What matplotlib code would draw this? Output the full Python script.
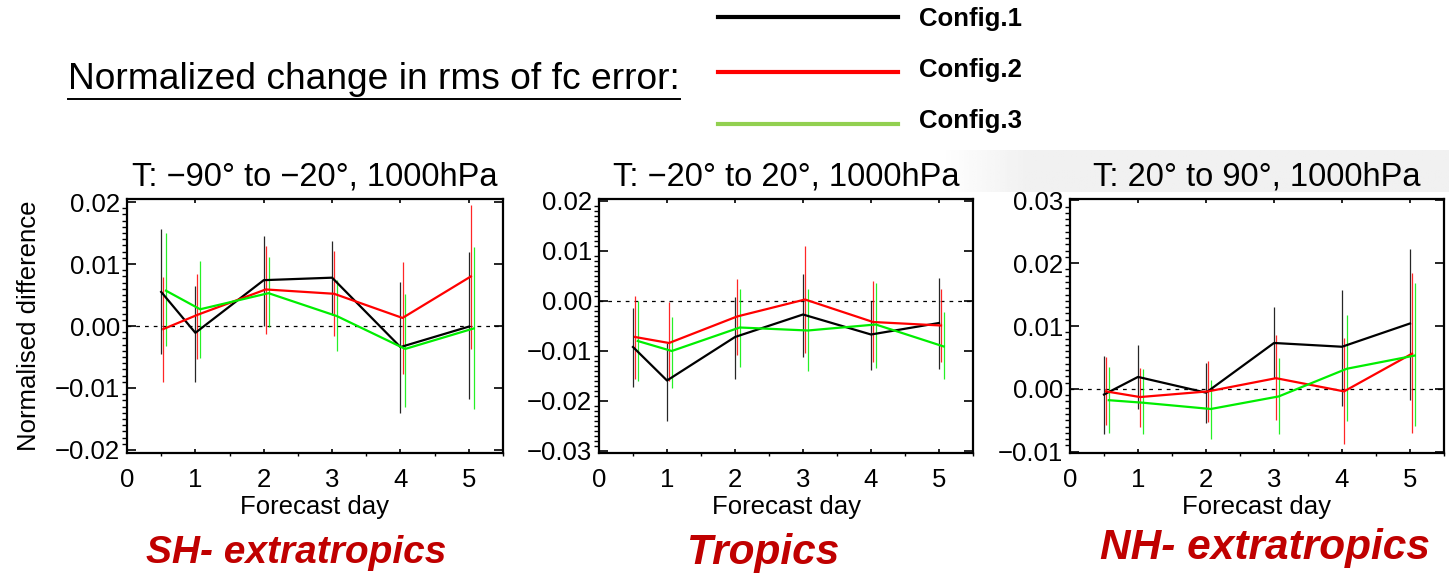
import numpy as np
import matplotlib.pyplot as plt
from matplotlib.lines import Line2D
from matplotlib.ticker import MultipleLocator, FuncFormatter

plt.rcParams['font.family'] = ['Liberation Sans', 'DejaVu Sans']

# ---- data ----
days = [0.5, 1, 2, 3, 4, 5]
configs = ['Config.1', 'Config.2', 'Config.3']
titles = ['T: \u221290\u00b0 to \u221220\u00b0, 1000hPa',
          'T: \u221220\u00b0 to 20\u00b0, 1000hPa',
          'T: 20\u00b0 to 90\u00b0, 1000hPa']
regions = ['SH- extratropics', 'Tropics', 'NH- extratropics']

# SH extratropics
sh_mean = [[0.0055, -0.0011, 0.0074, 0.0078, -0.0034, -0.0001],
           [-0.0005, 0.0018, 0.0059, 0.0052, 0.0013, 0.0080],
           [0.0057, 0.0027, 0.0053, 0.0016, -0.0037, -0.0004]]
sh_low = [[-0.0046, -0.0090, 0.0000, 0.0018, -0.0141, -0.0118],
          [-0.0090, -0.0054, -0.0013, -0.0016, -0.0078, -0.0037],
          [-0.0033, -0.0052, -0.0001, -0.0041, -0.0131, -0.0134]]
sh_high = [[0.0156, 0.0064, 0.0146, 0.0137, 0.0071, 0.0119],
           [0.0079, 0.0084, 0.0129, 0.0121, 0.0103, 0.0196],
           [0.0150, 0.0105, 0.0112, 0.0074, 0.0051, 0.0128]]

# Tropics
tr_mean = [[-0.0092, -0.0159, -0.0072, -0.0027, -0.0067, -0.0044],
           [-0.0072, -0.0084, -0.0031, 0.0003, -0.0042, -0.0049],
           [-0.0080, -0.0100, -0.0053, -0.0059, -0.0047, -0.0091]]
tr_low = [[-0.0171, -0.0240, -0.0155, -0.0112, -0.0137, -0.0135],
          [-0.0155, -0.0159, -0.0107, -0.0104, -0.0122, -0.0122],
          [-0.0159, -0.0173, -0.0132, -0.0140, -0.0133, -0.0155]]
tr_high = [[-0.0013, -0.0084, 0.0008, 0.0055, 0.0000, 0.0047],
           [0.0011, -0.0002, 0.0045, 0.0111, 0.0040, 0.0025],
           [0.0000, -0.0032, 0.0025, 0.0025, 0.0036, -0.0022]]

# NH extratropics
nh_mean = [[-0.0009, 0.0019, -0.0006, 0.0073, 0.0067, 0.0104],
           [-0.0004, -0.0013, -0.0004, 0.0017, -0.0004, 0.0056],
           [-0.0018, -0.0022, -0.0032, -0.0012, 0.0032, 0.0053]]
nh_low = [[-0.0072, -0.0032, -0.0054, 0.0017, -0.0028, -0.0018],
          [-0.0058, -0.0060, -0.0053, -0.0050, -0.0088, -0.0070],
          [-0.0070, -0.0072, -0.0079, -0.0072, -0.0051, -0.0059]]
nh_high = [[0.0052, 0.0070, 0.0041, 0.0130, 0.0158, 0.0222],
           [0.0051, 0.0033, 0.0044, 0.0086, 0.0081, 0.0184],
           [0.0035, 0.0031, 0.0014, 0.0049, 0.0118, 0.0168]]

panels = [(sh_mean, sh_low, sh_high), (tr_mean, tr_low, tr_high), (nh_mean, nh_low, nh_high)]
ylims = [(-0.0205, 0.0205), (-0.0304, 0.0204), (-0.0102, 0.0302)]

colors = ['black', '#ff0000', '#00ee00']
legend_colors = ['black', '#ff0000', '#92d050']
x_shift = [0.0, 0.03, 0.07]


def fmt(v, pos):
    return ('%.2f' % v).replace('-', '\u2212')


W, H = 1449, 577
fig = plt.figure(figsize=(W / 100, H / 100), dpi=100)

# faint grey box behind the right-hand title
bg = fig.add_axes([940 / W, 1 - 192 / H, (W - 940) / W, 42 / H], zorder=-5)
grad = np.clip(np.linspace(0, 1, 200) * 6, 0, 1)[None, :]
bg.imshow(1 - 0.055 * grad, cmap='gray', vmin=0, vmax=1, aspect='auto', extent=[0, 1, 0, 1])
bg.axis('off')

lefts = [127, 599, 1070]
widths = [376, 374, 374]
label_x = [296, 763, 1265]
label_y = [553, 553, 548]
label_size = [28, 30.5, 30.5]
for i, (mean, low, high) in enumerate(panels):
    ax = fig.add_axes([lefts[i] / W, 1 - 453 / H, widths[i] / W, 254 / H])
    ax.axhline(0, color='black', lw=0.9, ls=(0, (3, 4)), zorder=1)
    for k in range(3):
        xs = np.array(days) + x_shift[k]
        ax.plot(xs, mean[k], color=colors[k], lw=1.6, zorder=3)
        ax.vlines(xs, low[k], high[k], color=colors[k], lw=0.9, alpha=0.85, zorder=2)
    ax.set_xlim(0, 5.5)
    ax.set_ylim(*ylims[i])
    ax.xaxis.set_major_locator(MultipleLocator(1))
    ax.xaxis.set_minor_locator(MultipleLocator(0.5))
    ax.yaxis.set_major_locator(MultipleLocator(0.01))
    ax.yaxis.set_minor_locator(MultipleLocator(0.001))
    ax.yaxis.set_major_formatter(FuncFormatter(fmt))
    ax.tick_params(direction='in', top=True, right=True, labelsize=18.5, width=1.2)
    ax.tick_params(axis='y', which='major', length=6.5, pad=5)
    ax.tick_params(axis='y', which='minor', length=3.5, width=1.0)
    ax.tick_params(axis='x', which='major', length=3, pad=11)
    ax.tick_params(axis='x', which='minor', length=2, width=1.0)
    for s in ax.spines.values():
        s.set_linewidth(1.6)
    ax.set_title(titles[i], fontsize=23.5, pad=10)
    ax.set_xlabel('Forecast day', fontsize=18.5, labelpad=2)
    if i == 0:
        ax.set_ylabel('Normalised difference', fontsize=18.5, labelpad=10)
    fig.text(label_x[i] / W, 1 - label_y[i] / H, regions[i], fontsize=label_size[i],
             fontweight='bold', fontstyle='italic', color='#c00000', ha='center', va='center')

# heading with underline
head = fig.text(68 / W, 1 - 80 / H, 'Normalized change in rms of fc error:', fontsize=26.7,
                ha='left', va='center')
fig.canvas.draw()
bb = head.get_window_extent().transformed(fig.transFigure.inverted())
fig.add_artist(Line2D([bb.x0, bb.x1], [1 - 99 / H] * 2, color='black', lw=1.4,
                      transform=fig.transFigure))

# legend drawn by hand
leg_y = [17, 72, 124]
text_y = [19, 70, 121]
for k in range(3):
    fig.add_artist(Line2D([718 / W, 898 / W], [1 - leg_y[k] / H] * 2, color=legend_colors[k],
                          lw=3, transform=fig.transFigure))
    fig.text(919 / W, 1 - text_y[k] / H, configs[k], fontsize=18.5, fontweight='bold',
             ha='left', va='center')

fig.savefig('out.png', dpi=100)
